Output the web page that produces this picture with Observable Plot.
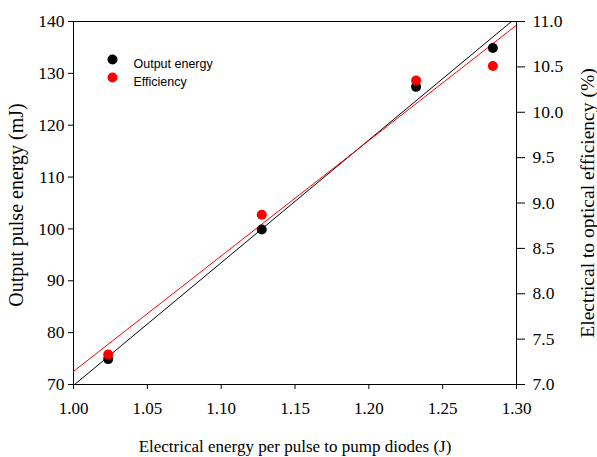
<!DOCTYPE html>
<html><head><meta charset="utf-8">
<script src="https://cdn.jsdelivr.net/npm/d3@7"></script>
<script src="https://cdn.jsdelivr.net/npm/@observablehq/plot@0.6"></script>
<style>body{margin:0;background:#fff}</style>
</head><body><div id="chart"></div>
<script>
const pumpEnergy = [1.0235, 1.1275, 1.232, 1.284];
const outputEnergy = [74.9, 99.9, 127.4, 134.9];
const efficiency = [7.33, 8.87, 10.35, 10.51];
const xTicks = [1.00, 1.05, 1.10, 1.15, 1.20, 1.25, 1.30];
const leftTicks = [70, 80, 90, 100, 110, 120, 130, 140];
const rightTicks = [7.0, 7.5, 8.0, 8.5, 9.0, 9.5, 10.0, 10.5, 11.0];
const legendLabels = ["Output energy", "Efficiency"];
const seriesColors = ["black", "red"];
const xLabel = "Electrical energy per pulse to pump diodes (J)";
const leftLabel = "Output pulse energy (mJ)";
const rightLabel = "Electrical to optical efficiency (%)";

const effToLeft = v => 70 + (v - 7) * 17.5;
const leftToEff = d => (d - 70) / 17.5 + 7;

function fit(xs, ys) {
  const mx = d3.mean(xs), my = d3.mean(ys);
  const sxy = d3.sum(xs, (x, i) => (x - mx) * (ys[i] - my));
  const sxx = d3.sum(xs, x => (x - mx) ** 2);
  const b = sxy / sxx;
  return x => my + b * (x - mx);
}
const fOut = fit(pumpEnergy, outputEnergy);
const fEff = fit(pumpEnergy, efficiency);
const xDom = [xTicks[0], xTicks[xTicks.length - 1]];

const outPts = pumpEnergy.map((x, i) => ({x, y: outputEnergy[i]}));
const effPts = pumpEnergy.map((x, i) => ({x, y: effToLeft(efficiency[i])}));
const outLine = xDom.map(x => ({x, y: fOut(x)}));
const effLine = xDom.map(x => ({x, y: effToLeft(fEff(x))}));

const chart = Plot.plot({
  width: 597, height: 457,
  marginLeft: 73, marginRight: 81, marginTop: 21, marginBottom: 73,
  style: {fontFamily: "Liberation Serif", fontSize: "17.5px", color: "black", background: "white"},
  x: {domain: xDom},
  y: {domain: [leftTicks[0], leftTicks[leftTicks.length - 1]]},
  marks: [
    Plot.frame({stroke: "black"}),
    Plot.axisX(xTicks, {tickSize: 5, tickPadding: 12, tickFormat: d => d.toFixed(2),
      label: xLabel, labelAnchor: "center", labelArrow: "none", labelOffset: 67, fontSize: 17}),
    Plot.axisY(leftTicks, {tickSize: 5, tickPadding: 4, label: null}),
    Plot.axisY(rightTicks.map(effToLeft), {anchor: "right", tickSize: 8, tickPadding: 8, tickFormat: d => leftToEff(d).toFixed(1), label: null}),
    Plot.text([leftLabel], {text: d => d, frameAnchor: "left", textAnchor: "middle", dx: -57, dy: 2, rotate: -90, fontSize: 20, fontFamily: "Liberation Serif"}),
    Plot.text([rightLabel], {text: d => d, frameAnchor: "right", textAnchor: "middle", dx: 71, rotate: -90, fontSize: 19.5, fontFamily: "Liberation Serif"}),
    Plot.line(outLine, {x: "x", y: "y", stroke: seriesColors[0], strokeWidth: 1, clip: true}),
    Plot.line(effLine, {x: "x", y: "y", stroke: seriesColors[1], strokeWidth: 1, clip: true}),
    Plot.dot(outPts, {x: "x", y: "y", fill: seriesColors[0], r: 5}),
    Plot.dot(effPts, {x: "x", y: "y", fill: seriesColors[1], r: 5}),
    Plot.dot([legendLabels[0]], {frameAnchor: "top-left", dx: 39, dy: 38, fill: seriesColors[0], r: 5}),
    Plot.dot([legendLabels[1]], {frameAnchor: "top-left", dx: 39, dy: 56, fill: seriesColors[1], r: 5}),
    Plot.text([legendLabels[0]], {text: d => d, frameAnchor: "top-left", dx: 60, dy: 38, textAnchor: "start", fontFamily: "Liberation Sans", fontSize: 12.5}),
    Plot.text([legendLabels[1]], {text: d => d, frameAnchor: "top-left", dx: 60, dy: 56, textAnchor: "start", fontFamily: "Liberation Sans", fontSize: 12.5})
  ]
});
document.getElementById("chart").append(chart);
</script>
</body></html>
